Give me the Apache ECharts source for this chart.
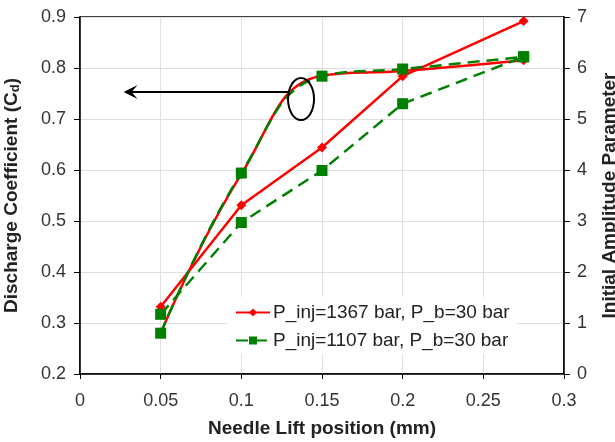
<!DOCTYPE html>
<html>
<head>
<meta charset="utf-8">
<script src="https://cdn.jsdelivr.net/npm/echarts@6/dist/echarts.min.js"></script>
<style>
  html, body { margin: 0; padding: 0; background: #fff; }
  #chart { width: 615px; height: 442px; }
</style>
</head>
<body>
<div id="chart"></div>
<script>
var lift = [0.05, 0.1, 0.15, 0.2, 0.275];
// discharge coefficient (left axis)
var cdHigh = [0.28, 0.592, 0.785, 0.794, 0.815];
var cdLow = [0.28, 0.594, 0.784, 0.798, 0.822];
// initial amplitude parameter (right axis)
var ampHigh = [1.32, 3.31, 4.44, 5.84, 6.92];
var ampLow = [1.17, 2.97, 3.99, 5.30, 6.22];
var nameHigh = 'P_inj=1367 bar, P_b=30 bar';
var nameLow = 'P_inj=1107 bar, P_b=30 bar';

function pairs(ys) {
    return lift.map(function (x, i) { return [x, ys[i]]; });
}

var red = '#ff0000';
var green = '#008000';
var font = 'Liberation Sans, Arial, sans-serif';

var myChart = echarts.init(document.getElementById('chart'));

var option = {
    animation: false,
    textStyle: {fontFamily: font},
    grid: {
        left: 80, right: 51, top: 17, bottom: 68,
        outerBoundsMode: 'none', containLabel: false,
        show: true, borderColor: '#000', borderWidth: 1.5
    },
    legend: {
        data: [nameHigh, nameLow],
        orient: 'vertical',
        left: 227,
        top: 297,
        padding: [6, 7, 4, 8],
        itemGap: 9,
        itemWidth: 34,
        itemHeight: 10,
        backgroundColor: '#fff',
        textStyle: {fontSize: 19, color: '#222', fontFamily: font, padding: [0, 0, 0, -2]}
    },
    xAxis: {
        type: 'value',
        min: 0,
        max: 0.3,
        interval: 0.05,
        name: 'Needle Lift position (mm)',
        nameLocation: 'middle',
        nameGap: 45,
        nameTextStyle: {fontSize: 19, fontWeight: 'bold', color: '#222'},
        axisLine: {lineStyle: {color: '#000', width: 1.5}},
        axisTick: {show: true, inside: false, length: 5, lineStyle: {color: '#000'}},
        axisLabel: {fontSize: 18, color: '#333', margin: 18},
        splitLine: {lineStyle: {color: '#e0e0e0'}}
    },
    yAxis: [{
        type: 'value',
        min: 0.2,
        max: 0.9,
        interval: 0.1,
        name: '{a|Discharge Coefficient (C}{b|d}{a|)}',
        nameLocation: 'middle',
        nameGap: 58,
        nameMoveOverlap: false,
        nameTextStyle: {
            rich: {
                a: {fontSize: 19, fontWeight: 'bold', color: '#222', fontFamily: font},
                b: {fontSize: 13, fontWeight: 'bold', color: '#222', fontFamily: font, padding: [8, 0, 0, 0]}
            }
        },
        axisLine: {show: true, lineStyle: {color: '#000', width: 1.5}},
        axisTick: {show: true, length: 6, lineStyle: {color: '#000'}},
        axisLabel: {fontSize: 18, color: '#333', margin: 14},
        splitLine: {lineStyle: {color: '#e0e0e0'}}
    }, {
        type: 'value',
        min: 0,
        max: 7,
        interval: 1,
        position: 'right',
        name: 'Initial Amplitude Parameter',
        nameLocation: 'middle',
        nameGap: 36,
        nameMoveOverlap: false,
        nameTextStyle: {fontSize: 19, fontWeight: 'bold', color: '#222'},
        axisLine: {show: true, lineStyle: {color: '#000', width: 1.5}},
        axisTick: {show: true, length: 6, lineStyle: {color: '#000'}},
        axisLabel: {fontSize: 18, color: '#333', margin: 13},
        splitLine: {show: false}
    }],
    series: [
        {
            name: nameHigh, type: 'line', yAxisIndex: 0, data: pairs(cdHigh), smooth: 0.45,
            symbol: 'diamond', symbolSize: 10, itemStyle: {color: red},
            lineStyle: {color: red, width: 2.5}, z: 2
        },
        {
            name: nameLow, type: 'line', yAxisIndex: 0, data: pairs(cdLow), smooth: 0.45,
            symbol: 'rect', symbolSize: 11, itemStyle: {color: green},
            lineStyle: {color: green, width: 2.5, type: [12, 7]}, z: 3
        },
        {
            name: nameHigh, type: 'line', yAxisIndex: 1, data: pairs(ampHigh),
            symbol: 'diamond', symbolSize: 10, itemStyle: {color: red},
            lineStyle: {color: red, width: 2.5}, z: 2
        },
        {
            name: nameLow, type: 'line', yAxisIndex: 1, data: pairs(ampLow),
            symbol: 'rect', symbolSize: 11, itemStyle: {color: green},
            lineStyle: {color: green, width: 2.5, type: [12, 7]}, z: 3
        }
    ]
};
myChart.setOption(option);

// arrow + ellipse annotation pointing to the Cd curves
var tip = myChart.convertToPixel({xAxisIndex: 0, yAxisIndex: 0}, [0.027, 0.753]);
var tail = myChart.convertToPixel({xAxisIndex: 0, yAxisIndex: 0}, [0.129, 0.753]);
var ring = myChart.convertToPixel({xAxisIndex: 0, yAxisIndex: 0}, [0.137, 0.739]);
myChart.setOption({
    graphic: [
        {type: 'line', shape: {x1: tip[0] + 4, y1: tip[1], x2: tail[0], y2: tail[1]}, style: {stroke: '#000', lineWidth: 2}, z: 10},
        {type: 'polygon', shape: {points: [[tip[0], tip[1]], [tip[0] + 14, tip[1] - 7], [tip[0] + 8, tip[1]], [tip[0] + 14, tip[1] + 7]]}, style: {fill: '#000'}, z: 10},
        {type: 'ellipse', shape: {cx: ring[0], cy: ring[1], rx: 13, ry: 21}, style: {fill: 'none', stroke: '#000', lineWidth: 2}, z: 10}
    ]
});
</script>
</body>
</html>
